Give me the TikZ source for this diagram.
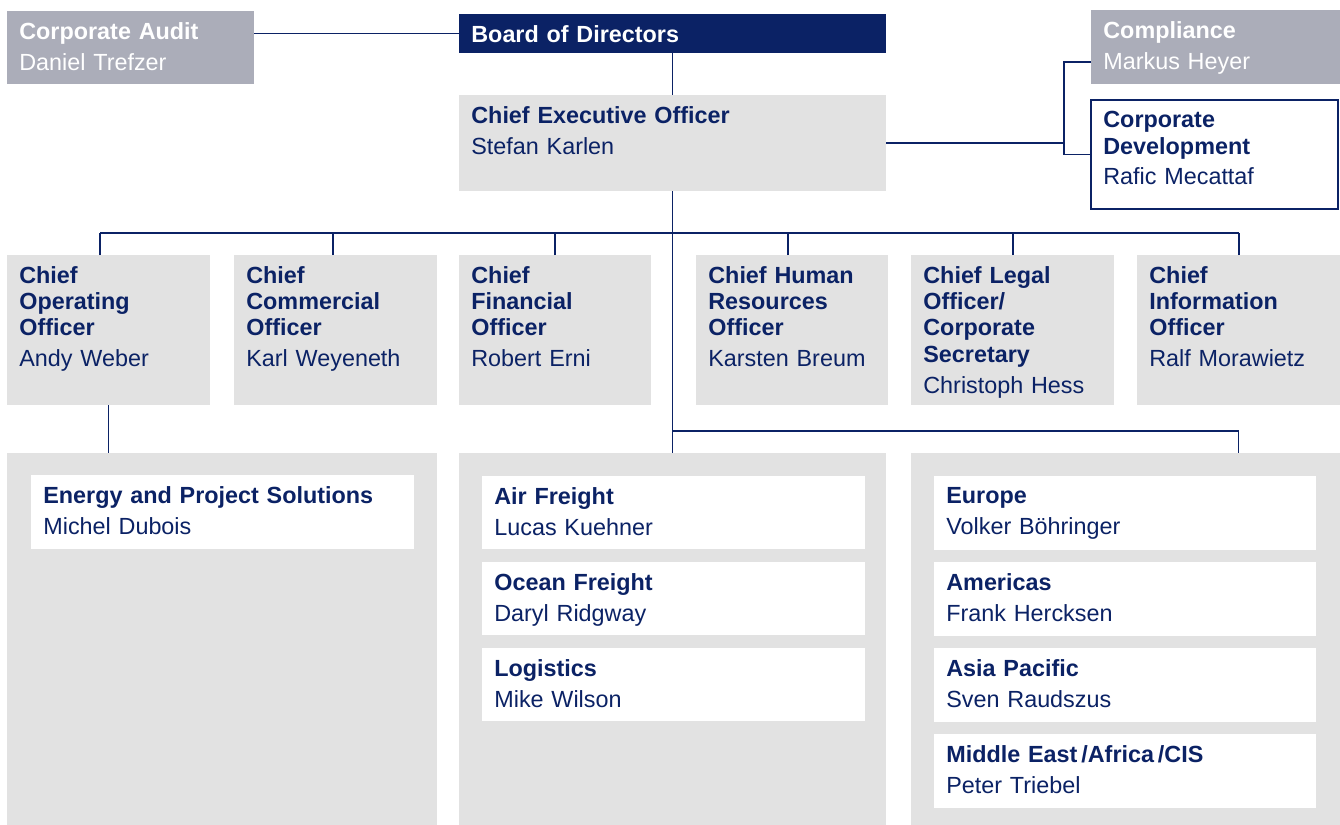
\documentclass[tikz,border=0pt]{standalone}
\usepackage{fontspec}
\setmainfont{Liberation Sans}
\definecolor{navy}{HTML}{0B2265}
\definecolor{paleg}{HTML}{E2E2E2}
\definecolor{darkg}{HTML}{ABADB9}

\begin{document}
\begin{tikzpicture}[x=0.02cm, y=-0.02cm,
    box/.style 2 args={anchor=north west, inner sep=0pt, outer sep=0pt,
        minimum width=#1*0.02cm, minimum height=#2*0.02cm},
    grey/.style={fill=paleg},
    dark/.style={fill=darkg},
    lbl/.style={anchor=north west, inner xsep=0.24cm, inner ysep=0.22cm,
        text width=7.5cm, align=left, text=navy,
        font=\fontsize{13.3}{15}\selectfont},
    link/.style={draw=navy, line width=0.6pt}]
    \useasboundingbox (0,0) rectangle (1340,825);

    % Top level - board, audit, CEO and staff units
    \node[box={247}{73}, dark, label={[lbl,text=white]north west:{\bfseries Corporate Audit\\[2.5pt]\mdseries Daniel Trefzer}}] (audit) at (7,11) {};
    \node[box={427}{39}, fill=navy, label={[lbl,text=white]north west:{\bfseries Board of Directors}}] (board) at (459,14) {};
    \node[box={427}{96}, grey, label={[lbl]north west:{\bfseries Chief Executive Officer\\[2.5pt]\mdseries Stefan Karlen}}] (ceo) at (459,95) {};
    \node[box={249}{74}, dark, label={[lbl,text=white]north west:{\bfseries Compliance\\[2.5pt]\mdseries Markus Heyer}}] (compl) at (1091,10) {};
    \node[box={247}{109}, fill=white, draw=navy, line width=0.6pt, label={[lbl]north west:{\bfseries Corporate\\Development\\[2.5pt]\mdseries Rafic Mecattaf}}] (cdev) at (1091,100) {};

    \draw[link] (board.west) -- (board.west -| audit.east);
    \draw[link] (board.south) -- (ceo.north);
    \coordinate (jc) at (1064,62);
    \draw[link] (ceo.east) -- (ceo.east -| jc);
    \draw[link] (compl.west |- jc) -- (jc) |- (cdev.west);

    % Second level - executive board
    \foreach \n/\x/\w/\txt in {
        coo/7/203/{\bfseries Chief\\Operating\\Officer\\[2.5pt]\mdseries Andy Weber},
        cco/234/203/{\bfseries Chief\\Commercial\\Officer\\[2.5pt]\mdseries Karl Weyeneth},
        cfo/459/192/{\bfseries Chief\\Financial\\Officer\\[2.5pt]\mdseries Robert Erni},
        chro/696/192/{\bfseries Chief Human\\Resources\\Officer\\[2.5pt]\mdseries Karsten Breum},
        clo/911/203/{\bfseries Chief Legal\\Officer/\\Corporate\\Secretary\\[2.5pt]\mdseries Christoph Hess},
        cio/1137/203/{\bfseries Chief\\Information\\Officer\\[2.5pt]\mdseries Ralf Morawietz}} {
        \node[box={\w}{150}, grey, label={[lbl]north west:{\txt}}] (\n) at (\x,255) {};
    }

    \coordinate (bus) at (673,233);
    \draw[link] (100,233) -- (cio.north |- bus);
    \foreach \n/\x in {coo/100,cco/333,cfo/555,chro/788,clo/1013,cio/1239}
        \draw[link] (\n.north -| \x,0) -- (\x,233);

    % Third level - divisions and regions
    \node[box={430}{372}, grey] (opsbox) at (7,453) {};
    \node[box={427}{372}, grey] (frtbox) at (459,453) {};
    \node[box={429}{372}, grey] (regbox) at (911,453) {};

    \node[box={383}{74}, fill=white, label={[lbl]north west:{\bfseries Energy and Project Solutions\\[2.5pt]\mdseries Michel Dubois}}] (eps) at (31,475) {};

    \foreach \n/\y/\txt in {
        air/476/{\bfseries Air Freight\\[2.5pt]\mdseries Lucas Kuehner},
        sea/562/{\bfseries Ocean Freight\\[2.5pt]\mdseries Daryl Ridgway},
        logi/648/{\bfseries Logistics\\[2.5pt]\mdseries Mike Wilson}} {
        \node[box={383}{73}, fill=white, label={[lbl]north west:{\txt}}] (\n) at (482,\y) {};
    }

    \foreach \n/\y/\txt in {
        eur/476/{\bfseries Europe\\[2.5pt]\mdseries Volker Böhringer},
        ame/562/{\bfseries Americas\\[2.5pt]\mdseries Frank Hercksen},
        apac/648/{\bfseries Asia Pacific\\[2.5pt]\mdseries Sven Raudszus},
        mea/734/{\bfseries Middle East\,/Africa\,/CIS\\[2.5pt]\mdseries Peter Triebel}} {
        \node[box={382}{74}, fill=white, label={[lbl]north west:{\txt}}] (\n) at (934,\y) {};
    }

    \draw[link] (ceo.south) -- (frtbox.north);
    \draw[link] (coo.south) -- (opsbox.north -| coo.south);
    \coordinate (split) at (673,431);
    \draw[link] (split) -| (cio.south |- regbox.north);
\end{tikzpicture}
\end{document}
